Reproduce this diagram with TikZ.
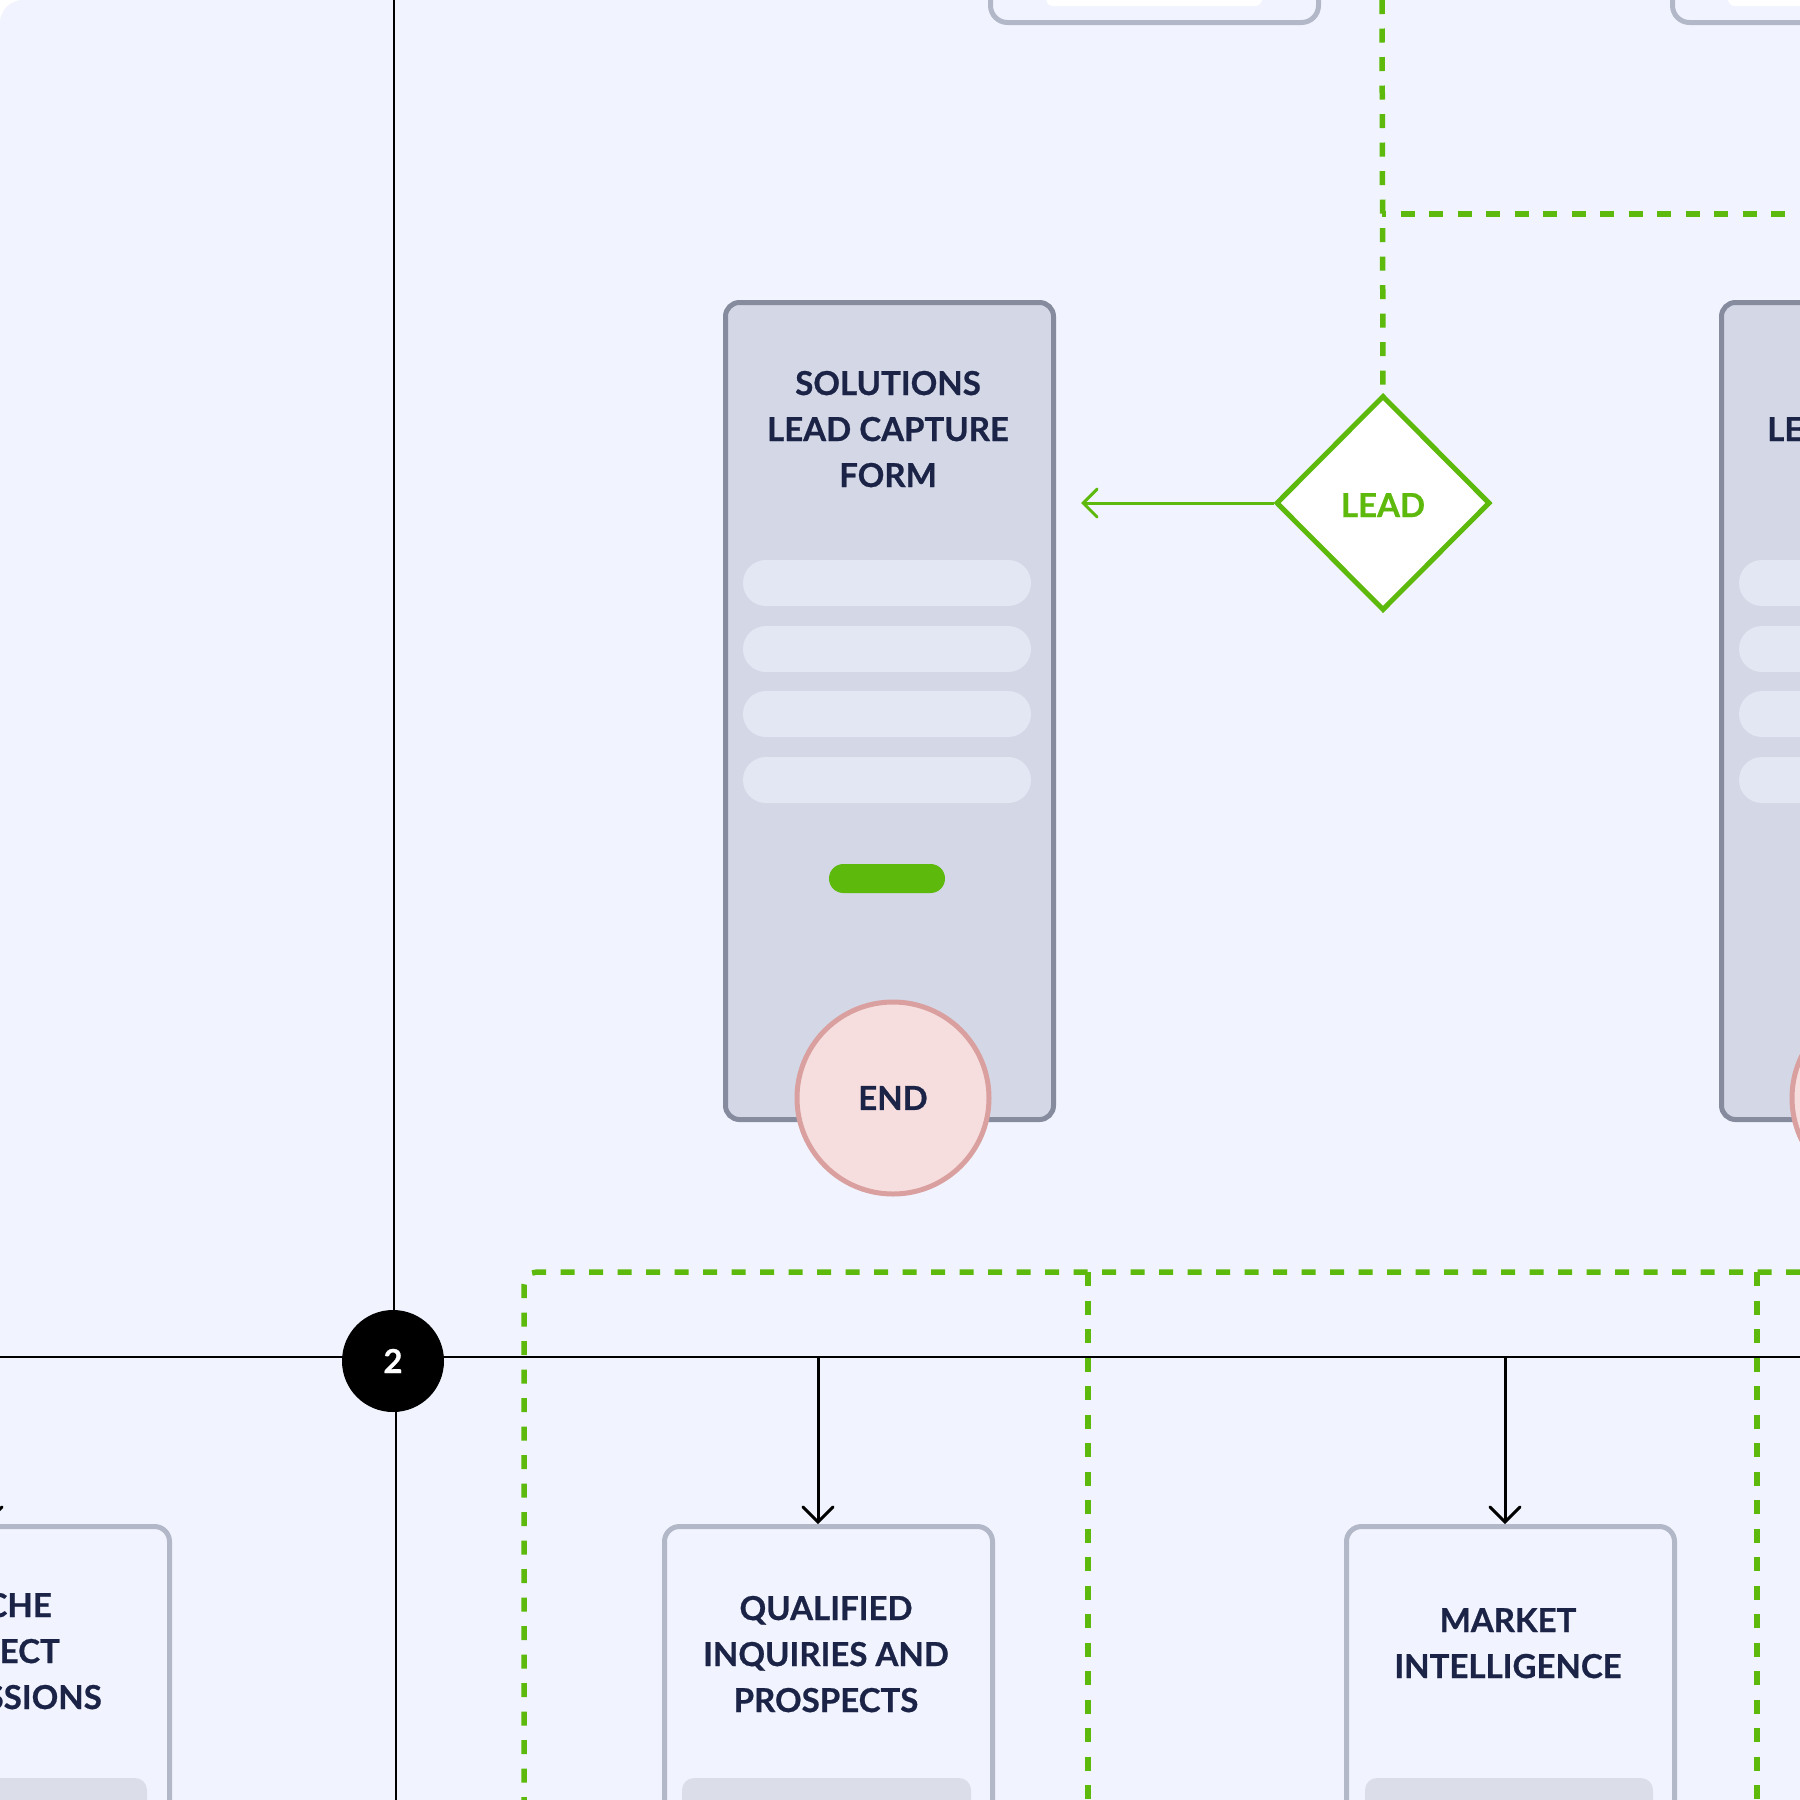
\documentclass[tikz,border=0pt]{standalone}
\usepackage{fontspec}
\setmainfont{Lato}[BoldFeatures={FakeBold=0.7}]
\usetikzlibrary{arrows.meta,shapes.geometric}
\definecolor{bgc}{HTML}{F1F4FE}
\definecolor{navy}{HTML}{1B2447}
\definecolor{grn}{HTML}{5DB90B}
\definecolor{formfill}{HTML}{D4D8E6}
\definecolor{formline}{HTML}{868C9E}
\definecolor{fieldc}{HTML}{E3E6F3}
\definecolor{endfill}{HTML}{F6DEDF}
\definecolor{endline}{HTML}{D9A09F}
\definecolor{boxline}{HTML}{B3B8C9}
\definecolor{barc}{HTML}{DBDEE9}
\begin{document}
\begin{tikzpicture}[x=1pt,y=-1pt,
  lbl/.style={font=\fontsize{33}{46}\selectfont\bfseries, text=navy, inner sep=0pt, anchor=base},
  formbox/.style={draw=formline, fill=formfill, line width=5pt, rounded corners=14pt, minimum width=328pt, minimum height=817pt, anchor=north west, inner sep=0pt},
  outbox/.style={draw=boxline, fill=bgc, line width=5pt, rounded corners=15pt, minimum width=328pt, minimum height=500pt, anchor=north west, inner sep=0pt},
  topbox/.style={draw=boxline, fill=bgc, line width=5pt, rounded corners=17pt, minimum width=328pt, minimum height=400pt, anchor=south west, inner sep=0pt},
  endc/.style={circle, draw=endline, fill=endfill, line width=5pt, minimum size=192pt, inner sep=0pt, font=\fontsize{33}{46}\selectfont\bfseries, text=navy},
  gdash/.style={draw=grn, line width=5.5pt, dash pattern=on 14pt off 14.5pt},
  blk/.style={draw=black, line width=2pt},
  blkarrow/.style={draw=black, line width=3pt, -{Straight Barb[length=15pt,width=30pt,line width=3pt,line cap=round]}},
  grarrow/.style={draw=grn, line width=3pt, -{Straight Barb[length=14pt,width=28pt,line width=3pt,line cap=round]}},
]
\useasboundingbox (0,0) rectangle (1800,1800);
\clip (0,0) rectangle (1800,1800);
\fill[white] (0,0) rectangle (1800,1800);
\fill[bgc, rounded corners=23pt] (0,0) rectangle (1950,1950);

% top boxes
\node[topbox] (top1) at (988,25) {};
\fill[white, rounded corners=7pt] (1046,-40) rectangle (1262,6);
\node[topbox] (top2) at (1670,25) {};
\fill[white, rounded corners=7pt] (1728,-40) rectangle (1950,6);

% black lines
\coordinate (vtop) at (394,0);
\coordinate (vbot) at (396,1800);
\coordinate (hl) at (0,1357);
\coordinate (hr) at (1800,1357);
\draw[blk] (hl) -- (hr);
\node[circle, fill=black, minimum size=102pt, inner sep=0pt] (c2) at (393,1361) {};
\draw[blk] (vtop) -- (vtop |- c2.north);
\draw[blk] (vbot) -- (vbot |- c2.south);
\node[lbl, text=white] (c2t) at (393,1373) {2};

% green dashed connectors (top)
\coordinate (gtop) at (1382,0);
\coordinate (gh1) at (1382,214);
\coordinate (gh2) at (1800,214);
\node[diamond, draw=grn, fill=white, line width=5pt, minimum width=214pt, minimum height=215pt, inner sep=0pt] (lead) at (1383,503) {};
\node[lbl, text=grn] (leadt) at (1383,517) {LEAD};
\draw[gdash] (gtop) -- (lead.north);
\draw[gdash, dash phase=10pt] (gh1) -- (gh2);

% form 1
\node[formbox] (form1) at (723,300) {};
\node[lbl] (f1a) at (888,395) {SOLUTIONS};
\node[lbl] (f1b) at (888,441) {LEAD CAPTURE};
\node[lbl] (f1c) at (888,487) {FORM};
\foreach \y in {560,626,691,757}{
  \fill[fieldc, rounded corners=22.9pt] (743,\y) rectangle (1031,\y+46);
}
\fill[grn, rounded corners=14.4pt] (829,864) rectangle (945,893);
\node[endc] (end1) at (893,1098) {END};
\coordinate (leadtip) at (1081,503);
\draw[grarrow] (lead.west) -- (leadtip);

% form 2 (partly visible)
\node[formbox] (form2) at (1719,300) {};
\node[lbl, anchor=base west] (f2b) at (1767,441) {LE};
\foreach \y in {560,626,691,757}{
  \fill[fieldc, rounded corners=22.9pt] (1739,\y) rectangle (2027,\y+46);
}
\node[endc] (end2) at (1888,1098) {};

% bottom green dashed frame
\coordinate (d1) at (1800,1272);
\coordinate (d2) at (524,1272);
\coordinate (d3) at (524,1800);
\draw[gdash, rounded corners=13pt] (d1) -- (d2) -- (d3);
\coordinate (e1) at (1088,1272);
\coordinate (e2) at (1088,1800);
\draw[gdash] (e1) -- (e2);
\coordinate (k1) at (1757,1272);
\coordinate (k2) at (1757,1800);
\draw[gdash] (k1) -- (k2);

% bottom boxes
\node[outbox] (left) at (-161,1524) {};
\fill[barc, rounded corners=12pt] (-140,1778) rectangle (147,1850);
\node[lbl, anchor=base east] (la) at (52,1617) {CHE};
\node[lbl, anchor=base east] (lb) at (60,1663) {ECT};
\node[lbl, anchor=base east] (lc) at (102,1709) {SSIONS};

\node[outbox] (qual) at (662,1524) {};
\fill[barc, rounded corners=12pt] (682,1778) rectangle (971,1850);
\node[lbl] (qa) at (826,1620) {QUALIFIED};
\node[lbl] (qb) at (826,1666) {INQUIRIES AND};
\node[lbl] (qc) at (826,1712) {PROSPECTS};

\node[outbox] (mkt) at (1344,1524) {};
\fill[barc, rounded corners=12pt] (1365,1778) rectangle (1653,1850);
\node[lbl] (ma) at (1508,1632) {MARKET};
\node[lbl] (mb) at (1508,1678) {INTELLIGENCE};

% arrows down
\coordinate (a0) at (-13,1357);
\coordinate (a1) at (818,1357);
\coordinate (a2) at (1505,1357);
\draw[blkarrow] (a0) -- (a0 |- left.north);
\draw[blkarrow] (a1) -- (a1 |- qual.north);
\draw[blkarrow] (a2) -- (a2 |- mkt.north);
\end{tikzpicture}
\end{document}
